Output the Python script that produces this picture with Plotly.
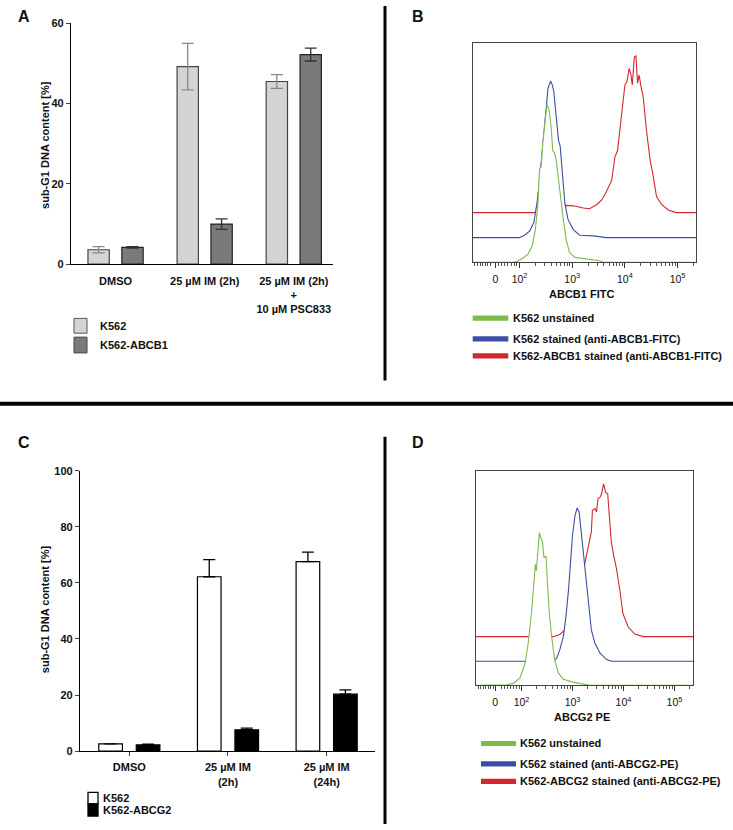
import math
import plotly.graph_objects as go

FONT = "Liberation Sans, Arial, sans-serif"
W, H = 733, 830

# ---- panel A: sub-G1, K562 vs K562-ABCB1 ----
A_categories = ["DMSO", "25 µM IM (2h)", "25 µM IM (2h)<br>+<br>10 µM PSC833"]
A_k562 = [3.6, 49.2, 45.5]
A_k562_err = [0.8, 5.8, 1.7]
A_abcb1 = [4.2, 10.0, 52.2]
A_abcb1_err = [0.2, 1.3, 1.6]
A_series = ["K562", "K562-ABCB1"]

# ---- panel C: sub-G1, K562 vs K562-ABCG2 ----
C_categories = ["DMSO", "25 µM IM<br>(2h)", "25 µM IM<br>(24h)"]
C_k562 = [2.6, 62.2, 67.6]
C_k562_err = [0.0, 6.1, 3.4]
C_abcg2 = [2.2, 7.6, 20.3]
C_abcg2_err = [0.3, 0.6, 1.5]
C_series = ["K562", "K562-ABCG2"]

# ---- flow histograms (x in display decades, y = relative count incl. overlay offset) ----
B_green_x = [1.11, 1.87, 1.97, 2.06, 2.16, 2.24, 2.30, 2.35, 2.38, 2.41, 2.44, 2.49, 2.52, 2.56, 2.60, 2.63, 2.67,
             2.70, 2.76, 2.83, 2.89, 2.95, 3.05, 3.27, 3.52, 3.59, 5.35]
B_green_y = [0, 0, 0.6, 1.8, 3.7, 7.5, 15, 27, 42.7, 43.4, 53.9, 67.4, 71.9, 69.6, 61.4, 50.9, 49.4,
             45.7, 32.9, 19.5, 9.7, 4.5, 2.2, 1.5, 0.7, 0, 0]
B_blue_x = [1.11, 2.0, 2.10, 2.19, 2.27, 2.33, 2.38, 2.43, 2.48, 2.51, 2.54, 2.59, 2.62, 2.65, 2.68, 2.71, 2.74,
            2.77, 2.81, 2.86, 2.92, 3.02, 3.14, 3.40, 3.65, 5.35]
B_blue_y = [11.2, 11.2, 12.4, 14.2, 18.0, 26.9, 37.4, 50.9, 64.4, 73.4, 79.3, 82.6, 80.8, 77.8, 70.4, 62.9, 55.4,
            53.1, 41.9, 26.9, 19.5, 14.9, 12.3, 12.0, 11.2, 11.2]
B_red_x = [1.11, 2.83, 2.86, 3.02, 3.21, 3.33, 3.46, 3.56, 3.65, 3.75, 3.81, 3.86, 3.91, 3.96, 4.00, 4.04, 4.08,
           4.11, 4.14, 4.18, 4.21, 4.24, 4.27, 4.30, 4.35, 4.41, 4.48, 4.54, 4.60, 4.70, 4.83, 4.98, 5.35]
B_red_y = [22.6, 22.6, 25.9, 25.7, 24.7, 24.4, 26.2, 28.4, 32.2, 37.4, 47.9, 50.9, 61.4, 71.9, 80.8, 82.3, 88.3,
           86.1, 80.8, 93.6, 94.0, 81.6, 85.3, 80.8, 74.9, 59.9, 46.4, 38.9, 29.9, 26.2, 23.7, 22.6, 22.6]

D_green_x = [1.10, 1.71, 1.84, 1.97, 2.07, 2.13, 2.20, 2.24, 2.27, 2.29, 2.32, 2.35, 2.38, 2.41, 2.44, 2.48, 2.51,
             2.54, 2.59, 2.65, 2.72, 2.82, 3.01, 3.27, 3.34, 5.37]
D_green_y = [0, 0.3, 0.9, 3.5, 10.4, 19.6, 34.9, 47.2, 56.4, 53.3, 64.0, 71.2, 68.6, 67.1, 59.4, 60.2, 47.2,
             34.9, 22.7, 11.9, 5.8, 2.8, 1.5, 0.3, 0, 0]
D_blue_x = [1.10, 2.62, 2.69, 2.75, 2.82, 2.87, 2.92, 2.96, 3.00, 3.05, 3.09, 3.13, 3.17, 3.21, 3.24, 3.27, 3.32,
            3.37, 3.44, 3.54, 3.67, 3.76, 5.37]
D_blue_y = [11.2, 11.2, 12.7, 16.5, 22.7, 31.9, 44.1, 58.7, 70.1, 79.3, 82.7, 80.9, 71.6, 61.0, 54.8, 45.6, 34.9,
            25.7, 19.6, 15.0, 12.0, 11.2, 11.2]
D_red_x = [1.10, 2.62, 2.75, 2.84, 2.92, 3.05, 3.14, 3.24, 3.27, 3.33, 3.37, 3.39, 3.44, 3.47, 3.50, 3.54, 3.57,
           3.61, 3.65, 3.69, 3.73, 3.76, 3.81, 3.86, 3.93, 3.99, 4.09, 4.22, 4.39, 5.37]
D_red_y = [22.7, 22.7, 23.7, 25.7, 27.3, 34.9, 45.6, 57.1, 59.4, 67.1, 71.7, 81.6, 82.4, 80.9, 87.0, 87.7, 89.3,
           93.9, 90.0, 89.3, 77.8, 67.1, 60.2, 54.8, 44.1, 33.4, 27.3, 23.9, 22.7, 22.7]

B_legend = ["K562 unstained", "K562 stained (anti-ABCB1-FITC)", "K562-ABCB1 stained (anti-ABCB1-FITC)"]
D_legend = ["K562 unstained", "K562 stained (anti-ABCG2-PE)", "K562-ABCG2 stained (anti-ABCG2-PE)"]
hist_ticktext = ["0", "10<sup>2</sup>", "10<sup>3</sup>", "10<sup>4</sup>", "10<sup>5</sup>"]
B_tickvals = [1.54, 2, 3, 4, 5]
D_tickvals = [1.48, 2, 3, 4, 5]

GREEN, BLUE, RED = "#7dbb4a", "#3c4ea3", "#d3262e"
LIGHT, DARK = "#d4d4d4", "#7a7a7a"


def px_x(v):
    return v / W


def px_y(v):
    return 1 - v / H


fig = go.Figure()

# bar panels
for xa, ya, vals, errs, fills, lines, errcol, sym in [
    ("x", "y", [A_k562, A_abcb1], [A_k562_err, A_abcb1_err], [LIGHT, DARK], ["#444", "#222"], ["#888", "#333"], True),
    ("x3", "y3", [C_k562, C_abcg2], [C_k562_err, C_abcg2_err], ["white", "black"], ["black", "black"],
     ["black", "black"], False),
]:
    for v, e, fc, lc, ec in zip(vals, errs, fills, lines, errcol):
        err = dict(type="data", array=e, visible=True, color=ec, thickness=1.3, width=6)
        if not sym:
            err.update(symmetric=False, arrayminus=[0] * len(e))
        fig.add_trace(go.Bar(x=list(range(len(v))), y=v, xaxis=xa, yaxis=ya,
                             marker=dict(color=fc, line=dict(color=lc, width=1.2)),
                             error_y=err, showlegend=False))

# histogram panels: red behind, blue, green in front; white fill hides lines behind
for xa, ya, curves in [
    ("x2", "y2", [(B_red_x, B_red_y, RED), (B_blue_x, B_blue_y, BLUE), (B_green_x, B_green_y, GREEN)]),
    ("x4", "y4", [(D_red_x, D_red_y, RED), (D_blue_x, D_blue_y, BLUE), (D_green_x, D_green_y, GREEN)]),
]:
    for cx, cy, col in curves:
        fig.add_trace(go.Scatter(x=cx, y=cy, xaxis=xa, yaxis=ya, mode="lines", line=dict(color=col, width=1.1),
                                 fill="tozeroy", fillcolor="white", showlegend=False))

bold11 = dict(family=FONT, size=11, color="#111", weight="bold")
norm10 = dict(family=FONT, size=10.5, color="#111")

minor_vals = [1.15, 1.2, 1.25, 1.3, 1.35, 1.4, 1.45, 1.6, 1.66, 1.72, 1.78, 1.84, 1.9, 1.95]
for n in (2, 3, 4):
    minor_vals += [n + math.log10(k) for k in range(2, 10)]
minor_vals += [5 + math.log10(2)]

layout = dict(
    width=W, height=H, margin=dict(l=0, r=0, t=0, b=0),
    paper_bgcolor="white", plot_bgcolor="white",
    barmode="group", bargap=0.24, bargroupgap=0.37,
    font=dict(family=FONT, color="#111"),
    xaxis=dict(domain=[px_x(71), px_x(333)], anchor="y", range=[-0.5, 2.44], showgrid=False, zeroline=False,
               showline=True, linecolor="black", linewidth=1.3, ticks="", tickvals=[0, 1, 2], ticktext=A_categories,
               tickfont=bold11, ticklabelstandoff=6),
    yaxis=dict(domain=[px_y(262), px_y(17.5)], anchor="x", range=[0, 60], showgrid=False, zeroline=False,
               showline=True, linecolor="black", linewidth=1.3, ticks="outside", ticklen=4, tickwidth=1.2,
               tickvals=[0, 20, 40, 60], tickfont=bold11),
    xaxis3=dict(domain=[px_x(80), px_x(375)], anchor="y3", range=[-0.5, 2.49], showgrid=False, zeroline=False,
                showline=True, linecolor="black", linewidth=1.3, ticks="outside", ticklen=4, tickwidth=1.2,
                tickvals=[0, 1, 2], ticktext=C_categories, tickfont=bold11, ticklabelstandoff=2),
    yaxis3=dict(domain=[px_y(756), px_y(471.6)], anchor="x3", range=[0, 100], showgrid=False, zeroline=False,
                showline=True, linecolor="black", linewidth=1.3, ticks="outside", ticklen=4, tickwidth=1.2,
                tickvals=[0, 20, 40, 60, 80, 100], tickfont=bold11),
)
for key, dom_x, dom_y, rng, tv in [
    ("2", [472.7, 696], [260, 37.3], [1.11, 5.35], B_tickvals),
    ("4", [475.7, 693.3], [689.3, 471.7], [1.10, 5.37], D_tickvals),
]:
    layout["xaxis" + key] = dict(domain=[px_x(dom_x[0]), px_x(dom_x[1])], anchor="y" + key, range=rng,
                                 showgrid=False, zeroline=False, showline=True, mirror=True, linecolor="#444",
                                 linewidth=1, ticks="outside", ticklen=5, tickcolor="#333", tickvals=tv,
                                 ticktext=hist_ticktext, tickfont=norm10, ticklabelstandoff=2,
                                 minor=dict(tickvals=minor_vals, ticks="outside", ticklen=3, tickcolor="#555"))
    layout["yaxis" + key] = dict(domain=[px_y(dom_y[0]), px_y(dom_y[1])], anchor="x" + key, range=[0, 100],
                                 showgrid=False, zeroline=False, showline=True, mirror=True, linecolor="#444",
                                 linewidth=1, ticks="", showticklabels=False)
fig.update_layout(**layout)

ann = []
shapes = []


def text(x, y, s, size=11, bold=True, xanchor="left", angle=0):
    ann.append(dict(x=px_x(x), y=px_y(y), xref="paper", yref="paper", text=s, showarrow=False, xanchor=xanchor,
                    yanchor="middle", textangle=angle,
                    font=dict(family=FONT, size=size, color="#111", weight="bold" if bold else "normal")))


def rect(x0, y0, x1, y1, fill, line="black", lw=1):
    shapes.append(dict(type="rect", xref="paper", yref="paper", x0=px_x(x0), x1=px_x(x1), y0=px_y(y0), y1=px_y(y1),
                       fillcolor=fill, line=dict(color=line, width=lw)))


# panel letters
text(23.5, 11, "A", size=16, xanchor="center")
text(417.5, 11, "B", size=16, xanchor="center")
text(24, 443, "C", size=16, xanchor="center")
text(417.5, 443, "D", size=16, xanchor="center")

# y titles
text(45, 141, "sub-G1 DNA content [%]", xanchor="center", angle=-90)
text(45, 612, "sub-G1 DNA content [%]", xanchor="center", angle=-90)

# histogram x titles
text(581.7, 292.3, "ABCB1 FITC", xanchor="center")
text(582, 721.7, "ABCG2 PE", xanchor="center")

# legend A
rect(74, 317, 87, 332, LIGHT, "#555")
rect(74, 336, 87, 352, DARK, "#444")
text(98, 324.5, A_series[0])
text(98, 344, A_series[1])

# legend C
rect(88, 798, 98, 809.5, "white", "black", 1.3)
rect(88, 809.5, 98, 822, "black", "black", 1.3)
text(101, 803.5, C_series[0])
text(101, 816, C_series[1])

# legends B and D
for lab, ys, bx0, bx1, tx in [(B_legend, [316.7, 337.7, 355], 472.7, 508.3, 510.5),
                              (D_legend, [748.3, 769, 786.7], 481, 516, 518)]:
    for s, yy, col in zip(lab, ys, [GREEN, BLUE, RED]):
        rect(bx0, yy - 2.6, bx1, yy + 2.6, col, col, 0)
        text(tx, yy, s)

# separators
shapes.append(dict(type="line", xref="paper", yref="paper", x0=px_x(385), x1=px_x(385), y0=px_y(0), y1=px_y(380),
                   line=dict(color="black", width=3)))
shapes.append(dict(type="line", xref="paper", yref="paper", x0=0, x1=1, y0=px_y(403.5), y1=px_y(403.5),
                   line=dict(color="black", width=4)))
shapes.append(dict(type="line", xref="paper", yref="paper", x0=px_x(385), x1=px_x(385), y0=px_y(437), y1=px_y(830),
                   line=dict(color="black", width=3)))

fig.update_layout(annotations=ann, shapes=shapes)
fig.write_html("out.html", config={"displayModeBar": False},
               post_script="document.body.style.margin='0';")
